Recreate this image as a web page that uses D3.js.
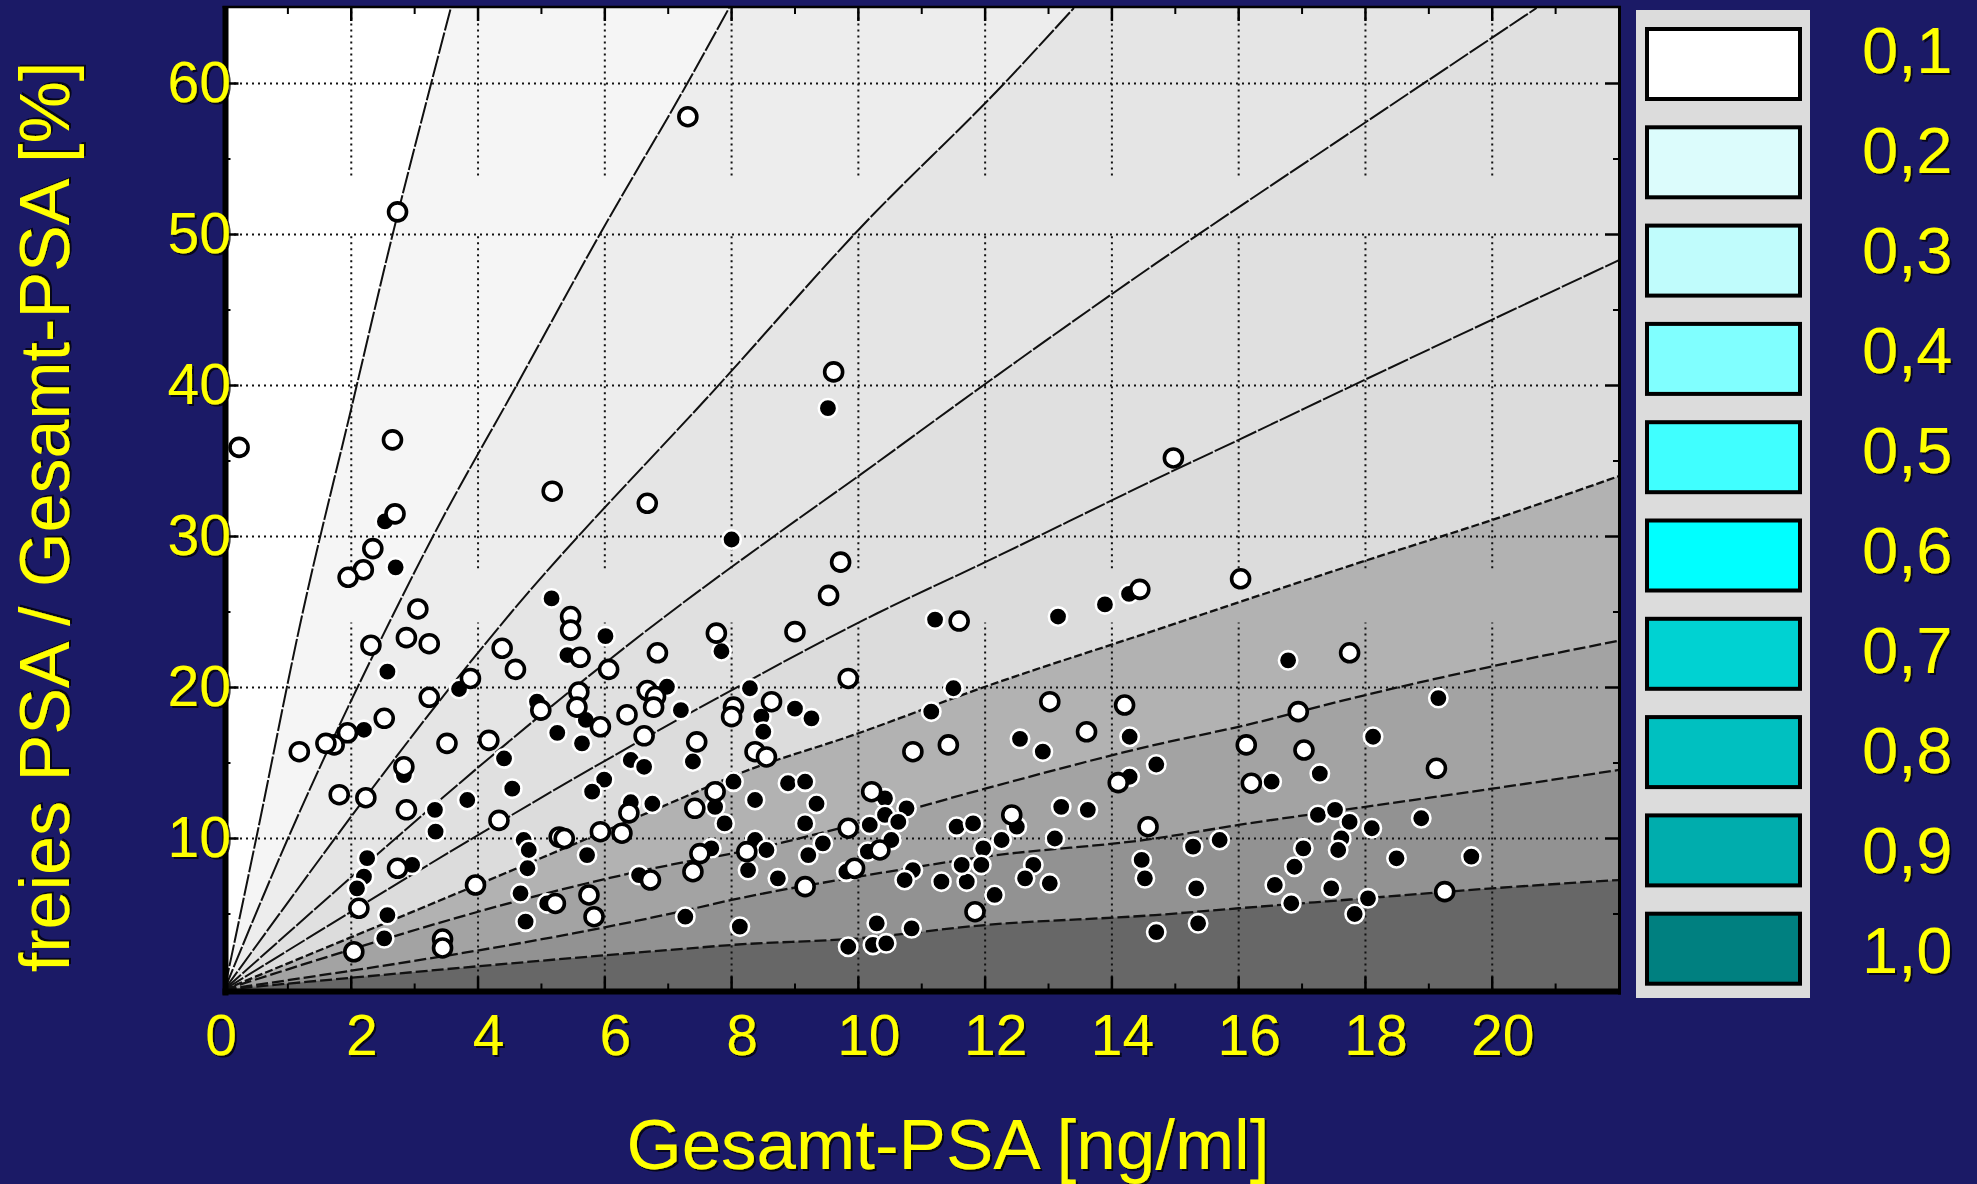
<!DOCTYPE html>
<html><head><meta charset="utf-8">
<script src="https://cdn.jsdelivr.net/npm/d3@7"></script>
<style>
html,body{margin:0;padding:0;background:#1b1a66;}
svg{display:block;}
text{font-family:"Liberation Sans",Arial,sans-serif;}
</style></head><body>
<svg id="chart" width="1977" height="1184"></svg>
<script>
// ---------- data ----------
const xTicks = [0, 2, 4, 6, 8, 10, 12, 14, 16, 18, 20];
const yTicks = [10, 20, 30, 40, 50, 60];
const legendLabels = ["0,1", "0,2", "0,3", "0,4", "0,5", "0,6", "0,7", "0,8", "0,9", "1,0"];
const legendColors = ["#ffffff", "#dcfcfc", "#c0fcfc", "#80ffff", "#40ffff", "#00ffff", "#00d2d2", "#00c0c0", "#00adad", "#008080"];

// iso-probability contour lines: [Gesamt-PSA, freies/Gesamt %]
const contourA = [[0,0],[0.5,10],[1.23,24.9],[1.99,38.3],[2.67,50.3],[3.26,60],[3.57,65]];
const contourB = [[0,0],[1.0,10],[2.67,24.9],[3.30,30.1],[4.62,40.1],[5.96,50.3],[7.3,60],[7.96,65]];
const contourC = [[0,0],[4.51,24.9],[7.9,40.5],[10.0,50.3],[12.3,60],[13.4,65]];
const contourD = [[0,0],[7.2,25.5],[8.73,30.2],[10.0,34.0],[12.0,40.1],[14.7,48.1],[17.6,56.3],[20.7,65]];
const contourE = [[0,0],[7.34,18.3],[10.29,24.9],[12.0,28.3],[14.69,33.8],[16.0,36.4],[18.0,40.4],[22.0,48.3]];
const contourF = [[0,0],[7.34,12.9],[8.0,14.1],[10.0,16.97],[12.0,20.05],[14.69,23.8],[15.47,24.9],[18.0,28.4],[20.0,31.1],[22.0,34.0]];
const contourG = [[0,0],[7.34,8.5],[8.0,9.0],[10.0,11.0],[12.0,13.3],[14.68,16.2],[16.0,17.4],[18.0,19.5],[20.0,21.4],[22.0,23.1]];
const contourH = [[0,0],[7.34,5.3],[8.0,5.93],[10.0,7.47],[12.0,8.8],[14.68,10.0],[16.0,10.9],[18.0,12.1],[20.0,13.3],[22.0,14.54]];
const contourI = [[0,0],[7.34,2.73],[8.0,2.95],[10.0,3.39],[12.0,4.27],[14.68,4.93],[16.0,5.38],[18.0,6.04],[20.0,6.70],[22.0,7.25]];

// open circles
const openPoints = [
[0.23,35.9],[2.73,51.5],[7.31,57.8],[2.65,36.4],[2.69,31.5],[2.34,29.2],[2.19,27.8],[1.95,27.3],
[5.17,33.0],[6.67,32.2],[3.05,25.2],[5.46,24.7],[5.46,23.8],[9.61,40.9],[9.72,28.3],[9.53,26.1],
[14.44,26.5],[11.59,24.4],[14.97,35.2],[16.03,27.2],
[2.31,22.8],[2.87,23.3],[3.23,22.9],[4.38,22.6],[4.59,21.2],[6.83,22.3],[5.61,22.0],[6.06,21.2],
[3.88,20.6],[3.23,19.35],[5.59,19.7],[6.67,19.8],[6.80,19.4],[6.77,18.7],[4.99,18.5],[5.56,18.7],
[5.93,17.4],[6.35,18.2],[6.62,16.8],[2.52,17.96],[1.94,17.0],[1.73,16.2],[1.60,16.3],[1.18,15.75],
[3.51,16.3],[4.17,16.5],[2.83,14.75],[1.81,12.9],[2.23,12.7],[2.87,11.9],[4.33,11.2],[6.38,11.7],
[2.12,5.38],[2.73,8.03],[2.04,2.5],[3.96,6.92],[3.44,3.34],[3.44,2.75],[5.28,10.1],[5.36,10.0],
[5.93,10.45],[6.27,10.35],[5.22,5.7],[5.75,6.26],[5.83,4.82],[6.72,7.25],
[7.76,23.6],[9.0,23.7],[9.84,20.6],[8.03,18.7],[8.0,18.07],[8.63,19.06],[7.45,16.4],[8.37,15.75],
[8.55,15.4],[10.86,15.75],[11.42,16.2],[13.02,19.06],[13.6,17.07],[14.2,18.84],[7.74,13.1],[7.42,12.0],
[7.5,9.0],[7.39,7.8],[8.24,9.13],[9.16,6.81],[9.84,10.68],[10.21,13.1],[10.34,9.24],[9.94,8.03],
[12.42,11.56],[11.84,5.15],[14.1,13.7],[14.57,10.78],
[17.75,22.3],[16.94,18.4],[16.12,16.2],[17.03,15.86],[19.12,14.65],[16.2,13.66],[19.25,6.48]
];

// filled circles
const filledPoints = [
[2.53,31.0],[2.70,27.96],[5.16,25.9],[9.52,38.5],[8.0,29.8],[13.89,25.5],[14.27,26.2],[11.21,24.5],[13.15,24.7],
[6.01,23.4],[5.41,22.15],[2.57,21.05],[3.70,19.9],[6.98,20.05],[7.20,18.5],[4.93,19.06],[5.70,17.85],
[5.25,17.0],[5.64,16.3],[2.20,17.2],[2.83,14.2],[4.41,15.3],[4.54,13.3],[3.32,11.9],[3.33,10.45],
[3.83,12.55],[5.99,13.9],[5.80,13.1],[6.41,15.2],[6.62,14.75],[6.41,12.4],[6.75,12.3],[2.25,8.7],
[2.20,7.47],[2.09,6.7],[2.96,8.25],[2.57,4.93],[2.52,3.39],[4.72,9.9],[4.80,9.24],[4.78,8.03],
[4.67,6.37],[4.75,4.49],[5.72,8.9],[5.09,5.7],[6.54,7.58],[7.27,4.82],
[7.84,22.4],[8.29,19.95],[9.0,18.6],[9.26,17.96],[8.47,18.07],[8.50,17.07],[7.39,15.1],[11.5,19.95],
[11.15,18.4],[12.55,16.6],[12.91,15.75],[14.28,16.74],[8.03,13.76],[7.74,12.1],[8.37,12.55],[8.89,13.66],
[9.16,13.76],[9.34,12.3],[9.16,11.0],[7.89,11.0],[7.68,9.35],[8.37,9.9],[8.55,9.24],[8.26,7.91],
[8.73,7.36],[9.21,8.9],[9.44,9.68],[10.18,10.9],[10.42,12.66],[10.76,12.0],[10.42,11.56],[10.63,11.1],
[10.52,9.9],[10.15,9.13],[9.81,7.8],[10.86,7.91],[10.73,7.25],[11.31,7.14],[11.71,7.14],[11.55,10.78],
[11.81,11.0],[12.5,10.78],[12.26,9.9],[11.97,9.35],[11.94,8.25],[11.63,8.25],[12.15,6.26],[13.2,12.1],
[13.62,11.9],[13.1,10.0],[12.76,8.25],[12.63,7.36],[13.02,7.03],[14.28,14.09],[14.47,8.58],[14.52,7.36],
[8.13,4.16],[10.29,4.38],[9.84,2.83],[10.23,2.95],[10.44,3.06],[10.84,4.05],[14.7,3.8],
[16.78,21.8],[19.15,19.3],[18.12,16.74],[14.7,14.9],[17.28,14.3],[16.52,13.76],[17.25,11.56],[17.52,11.9],
[17.75,11.1],[18.1,10.68],[17.62,10.0],[17.57,9.24],[18.88,11.34],[17.02,9.35],[16.88,8.13],[15.70,9.9],
[15.28,9.46],[18.49,8.69],[19.67,8.8],[15.33,6.7],[16.57,6.92],[16.83,5.71],[17.46,6.7],[18.04,6.04],
[17.83,5.0],[15.36,4.38]
];

// ---------- styling / layout ----------
const contourLines = [contourA, contourB, contourC, contourD, contourE, contourF, contourG, contourH, contourI];
const regionAbove = ["#ffffff", "#f5f5f5", "#ededed", "#e5e5e5", "#e0e0e0", "#dcdcdc", "#b2b2b2", "#a3a3a3", "#929292"];
const regionBottom = "#676767";
const lineDash = ["22,2", "22,2", "22,2", "22,2", "22,2", "8,3", "12,4", "12,4", "12,4"];
const gridGaps = [[24.3, 27.9], [50.1, 53.9]];

const W = 1977, H = 1184;
const X0 = 224.5, X1 = 1619, Y0 = 989.5, Y1 = 8;
const YELLOW = "#ffff00";

const svg = d3.select("#chart");
const defs = svg.append("defs");
const f = defs.append("filter").attr("id", "sh").attr("x", "-10%").attr("y", "-10%").attr("width", "130%").attr("height", "130%");
f.append("feDropShadow").attr("dx", 2).attr("dy", 2).attr("stdDeviation", 0.6)
  .attr("flood-color", "#000").attr("flood-opacity", 0.75);
defs.append("clipPath").attr("id", "plotclip").append("rect")
  .attr("x", X0).attr("y", Y1).attr("width", X1 - X0).attr("height", Y0 - Y1);

svg.append("rect").attr("width", W).attr("height", H).attr("fill", "#1b1a66");

const x = d3.scaleLinear().domain([0, 22]).range([X0, X1]);
const y = d3.scaleLinear().domain([0, 65]).range([Y0, Y1]);

const plot = svg.append("g").attr("clip-path", "url(#plotclip)");
plot.append("rect").attr("x", X0).attr("y", Y1).attr("width", X1 - X0).attr("height", Y0 - Y1)
  .attr("fill", regionBottom);

const area = d3.area().x(d => x(d[0])).y0(y(65)).y1(d => y(d[1])).curve(d3.curveMonotoneX);
const line = d3.line().x(d => x(d[0])).y(d => y(d[1])).curve(d3.curveMonotoneX);

for (let k = contourLines.length - 1; k >= 0; k--) {
  plot.append("path").attr("d", area(contourLines[k])).attr("fill", regionAbove[k]);
}

// grid
const grid = plot.append("g").attr("stroke", "#111").attr("stroke-width", 2)
  .attr("stroke-dasharray", "2,4").attr("fill", "none");
xTicks.filter(v => v > 0).forEach(v => {
  const segs = [[0, gridGaps[0][0]], [gridGaps[0][1], gridGaps[1][0]], [gridGaps[1][1], 65]];
  segs.forEach(s => grid.append("line").attr("x1", x(v)).attr("x2", x(v)).attr("y1", y(s[0])).attr("y2", y(s[1])));
});
yTicks.forEach(v => grid.append("line").attr("x1", x(0.15)).attr("x2", x(21.7)).attr("y1", y(v)).attr("y2", y(v)));

// contour lines
contourLines.forEach((c, i) => {
  plot.append("path").attr("d", line(c)).attr("fill", "none")
    .attr("stroke", "#111").attr("stroke-width", i < 5 ? 2 : 2.3)
    .attr("stroke-dasharray", lineDash[i]);
});

// points
plot.append("g").selectAll("circle").data(filledPoints).join("circle")
  .attr("cx", d => x(d[0])).attr("cy", d => y(d[1])).attr("r", 9.2)
  .attr("fill", "#000").attr("stroke", "#fff").attr("stroke-width", 2.6);
plot.append("g").selectAll("circle").data(openPoints).join("circle")
  .attr("cx", d => x(d[0])).attr("cy", d => y(d[1])).attr("r", 9)
  .attr("fill", "#fff").attr("stroke", "#000").attr("stroke-width", 3.6);

// frame ticks
const ticks = svg.append("g").attr("stroke", "#000");
d3.range(1, 22).forEach(v => {
  const len = v % 2 === 0 ? 13 : 6, w = v % 2 === 0 ? 2.5 : 2;
  ticks.append("line").attr("x1", x(v)).attr("x2", x(v)).attr("y1", Y0).attr("y2", Y0 - len).attr("stroke-width", w);
  ticks.append("line").attr("x1", x(v)).attr("x2", x(v)).attr("y1", Y1).attr("y2", Y1 + len).attr("stroke-width", w);
});
d3.range(5, 65, 5).forEach(v => {
  const major = v % 10 === 0;
  const len = major ? 14 : 6, w = major ? 2.5 : 2;
  ticks.append("line").attr("x1", X0).attr("x2", X0 + len).attr("y1", y(v)).attr("y2", y(v)).attr("stroke-width", w);
  ticks.append("line").attr("x1", X1).attr("x2", X1 - len).attr("y1", y(v)).attr("y2", y(v)).attr("stroke-width", w);
});

// frame
const frame = svg.append("g").attr("stroke", "#000").attr("fill", "none");
frame.append("line").attr("x1", X0 + 1).attr("x2", X0 + 1).attr("y1", Y1 - 2).attr("y2", Y0 + 6).attr("stroke-width", 6);
frame.append("line").attr("x1", X0 - 2).attr("x2", X1 + 2).attr("y1", Y0 + 2).attr("y2", Y0 + 2).attr("stroke-width", 6);
frame.append("line").attr("x1", X0 - 2).attr("x2", X1 + 2).attr("y1", Y1 - 1).attr("y2", Y1 - 1).attr("stroke-width", 2.5);
frame.append("line").attr("x1", X1 + 0.5).attr("x2", X1 + 0.5).attr("y1", Y1 - 2).attr("y2", Y0 + 5).attr("stroke-width", 3);

// axes labels
const xAxis = svg.append("g").attr("transform", `translate(0,${1014.5})`)
  .call(d3.axisBottom(x).tickValues(xTicks).tickSize(0).tickPadding(0).tickFormat(d3.format("d")));
xAxis.select(".domain").remove();
xAxis.selectAll("text").attr("fill", YELLOW).attr("font-size", 57)
  .attr("font-family", '"Liberation Sans",Arial,sans-serif')
  .attr("dx", d => d === 0 ? -4 : 10).attr("filter", "url(#sh)");

const yAxis = svg.append("g").attr("transform", `translate(231,0)`)
  .call(d3.axisLeft(y).tickValues(yTicks).tickSize(0).tickPadding(0).tickFormat(d3.format("d")));
yAxis.select(".domain").remove();
yAxis.selectAll("text").attr("fill", YELLOW).attr("font-size", 57)
  .attr("font-family", '"Liberation Sans",Arial,sans-serif').attr("filter", "url(#sh)");

svg.append("text").attr("x", 948).attr("y", 1169).attr("text-anchor", "middle")
  .attr("font-size", 71).attr("fill", YELLOW).attr("filter", "url(#sh)")
  .text("Gesamt-PSA [ng/ml]");
svg.append("text").attr("transform", "translate(69,517) rotate(-90)").attr("text-anchor", "middle")
  .attr("font-size", 70).attr("fill", YELLOW).attr("filter", "url(#sh)")
  .text("freies PSA / Gesamt-PSA [%]");

// legend
svg.append("rect").attr("x", 1636).attr("y", 10).attr("width", 174).attr("height", 988).attr("fill", "#dcdcdc");
const lg = svg.append("g");
legendColors.forEach((c, i) => {
  lg.append("rect").attr("x", 1647).attr("y", 29 + 98.3 * i).attr("width", 153).attr("height", 70)
    .attr("fill", c).attr("stroke", "#000").attr("stroke-width", 4);
});
legendLabels.forEach((t, i) => {
  lg.append("text").attr("x", 1862).attr("y", 50.4 + 100 * i + 23).attr("font-size", 65)
    .attr("fill", YELLOW).attr("filter", "url(#sh)").text(t);
});
</script>
</body></html>
